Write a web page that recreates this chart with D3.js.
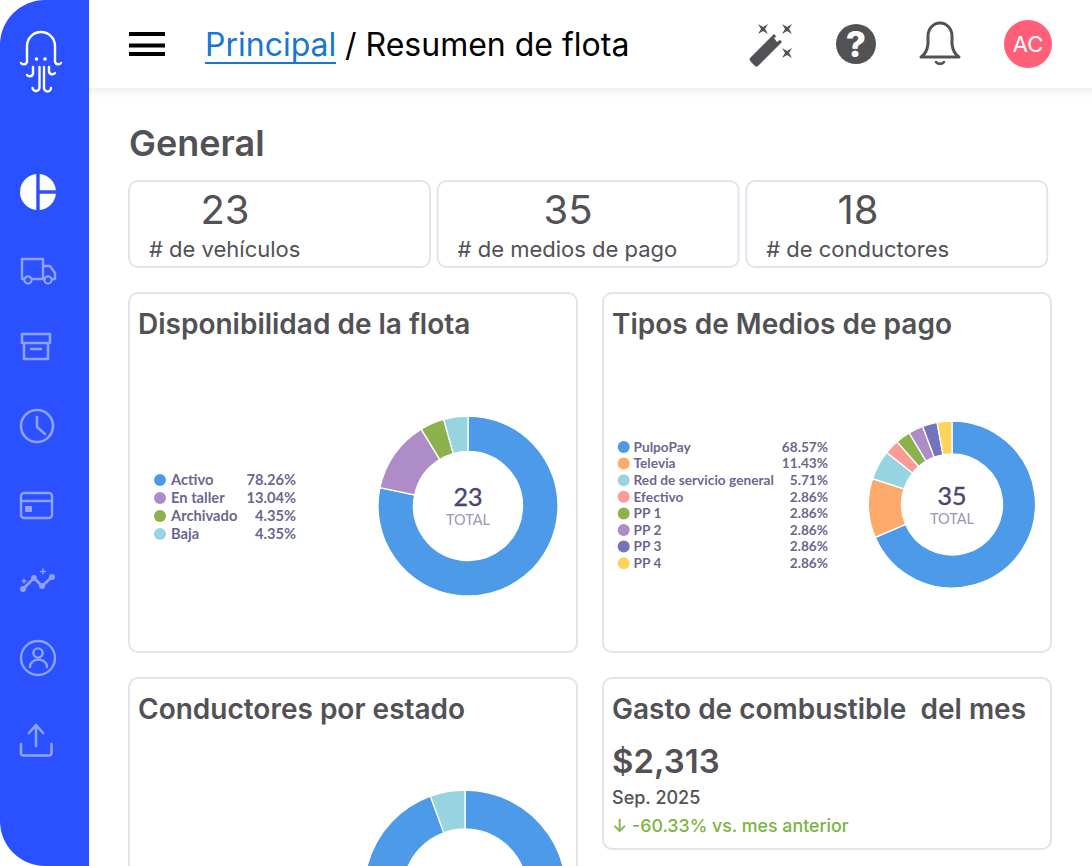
<!DOCTYPE html>
<html>
<head>
<meta charset="utf-8">
<script src="https://cdn.jsdelivr.net/npm/d3@7/dist/d3.min.js"></script>
<style>
  html, body { margin: 0; padding: 0; background: #fff; overflow: hidden; }
  svg { display: block; }
  text { font-family: Inter, "Noto Sans", sans-serif; white-space: pre; }
  .lato { font-family: Lato, sans-serif; }
</style>
</head>
<body>
<svg id="page" width="1092" height="866"></svg>
<script>
// Data
const kpiValues = [23, 35, 18];
const kpiLabels = ['# de vehículos', '# de medios de pago', '# de conductores'];

const flotaCategories = ['Activo', 'En taller', 'Archivado', 'Baja'];
const flotaValues = [78.26, 13.04, 4.35, 4.35];
const flotaColors = ['#4c9ae8', '#ae8cc8', '#8bb24c', '#97d4df'];

const pagoCategories = ['PulpoPay', 'Televia', 'Red de servicio general', 'Efectivo', 'PP 1', 'PP 2', 'PP 3', 'PP 4'];
const pagoValues = [68.57, 11.43, 5.71, 2.86, 2.86, 2.86, 2.86, 2.86];
const pagoColors = ['#4c9ae8', '#fcaa6c', '#97d4df', '#fc9a96', '#8bb24c', '#ae8cc8', '#7474bc', '#fdd35a'];

const conductorCategories = ['Activo', 'Baja'];
const conductorValues = [94.44, 5.56];
const conductorColors = ['#4c9ae8', '#97d4df'];

const INK = '#525155';
const LEGEND_INK = '#5a5683';
const ICON = '#8ea3ff';

const svg = d3.select('#page');
const defs = svg.append('defs');
const blur = defs.append('filter').attr('id', 'shadow').attr('y', '-20%').attr('height', '150%');
blur.append('feDropShadow').attr('dx', 0).attr('dy', 2).attr('stdDeviation', 5)
  .attr('flood-color', '#c9c9d6').attr('flood-opacity', 0.4);

// header band
svg.append('rect').attr('x', 60).attr('y', -20).attr('width', 1060).attr('height', 108)
  .attr('fill', '#fff').attr('filter', 'url(#shadow)');

// sidebar
svg.append('path').attr('fill', '#2b50ff')
  .attr('d', 'M89 0 V866 H45 A45 45 0 0 1 0 821 V45 A45 45 0 0 1 45 0 Z');

function addText(x, y, str, size, weight, color, anchor, cls) {
  return svg.append('text').attr('x', x).attr('y', y).text(str)
    .attr('font-size', size).attr('font-weight', weight).attr('fill', color)
    .attr('text-anchor', anchor || 'start').attr('class', cls || null);
}

function addCard(x, y, w, h) {
  svg.append('rect').attr('x', x).attr('y', y).attr('width', w).attr('height', h).attr('rx', 9)
    .attr('fill', '#fff').attr('stroke', '#e2e3ed').attr('stroke-width', 2);
}

// sidebar icons
function icon(d, color, width, fill) {
  svg.append('path').attr('d', d).attr('fill', fill || 'none').attr('stroke', color)
    .attr('stroke-width', width).attr('stroke-linecap', 'round').attr('stroke-linejoin', 'round');
}
icon('M27 62 V46 a14 14 0 0 1 28 0 V62 M27 62 a3.5 3.5 0 0 1 -6 1 M55 62 a3.5 3.5 0 0 0 6 1 M33 67 v7 a3.5 3.5 0 0 1 -6 1 M39.5 67 V87 a3.5 3.5 0 0 1 -7 1 M44 67 V88 a3.5 3.5 0 0 0 7 0 M49 67 v5 a3.5 3.5 0 0 0 6 1', '#fff', 2.4);
svg.append('circle').attr('cx', 36.5).attr('cy', 59).attr('r', 1.8).attr('fill', '#fff');
svg.append('circle').attr('cx', 45).attr('cy', 59).attr('r', 1.8).attr('fill', '#fff');

svg.append('circle').attr('cx', 38).attr('cy', 192).attr('r', 18).attr('fill', '#fff');
svg.append('path').attr('d', 'M38 172 V212 M38 192 H58').attr('stroke', '#2b50ff').attr('stroke-width', 3.4);

icon('M22 259 H43 V279 H22 Z M43 266 H50 L55 273 V279 H43', ICON, 2.4);
svg.append('circle').attr('cx', 28).attr('cy', 280).attr('r', 3.6).attr('fill', '#2b50ff').attr('stroke', ICON).attr('stroke-width', 2.2);
svg.append('circle').attr('cx', 48).attr('cy', 280).attr('r', 3.6).attr('fill', '#2b50ff').attr('stroke', ICON).attr('stroke-width', 2.2);

icon('M22 334 H50 V343 H22 Z M24 343 V359 H48 V343 M31 349 H41', ICON, 2.6);

svg.append('circle').attr('cx', 37).attr('cy', 426).attr('r', 16).attr('fill', 'none').attr('stroke', ICON).attr('stroke-width', 2.6);
icon('M37 417 V427 L45 434', ICON, 2.6);

svg.append('rect').attr('x', 21).attr('y', 493).attr('width', 31).attr('height', 25).attr('rx', 3).attr('fill', 'none').attr('stroke', ICON).attr('stroke-width', 2.4);
svg.append('path').attr('d', 'M21 501 H52').attr('stroke', ICON).attr('stroke-width', 2.4);
svg.append('rect').attr('x', 25).attr('y', 506).attr('width', 7).attr('height', 6).attr('fill', ICON);

icon('M23 589 L34 578 L42 586 L52 577', ICON, 2.8);
[[23, 589], [34, 578], [42, 586], [52, 577]].forEach(p =>
  svg.append('circle').attr('cx', p[0]).attr('cy', p[1]).attr('r', 3).attr('fill', ICON));
icon('M24 579 v4 M22 581 h4 M43 569 v5 M40.5 571.5 h5', ICON, 1.4);

svg.append('circle').attr('cx', 38).attr('cy', 658).attr('r', 17).attr('fill', 'none').attr('stroke', ICON).attr('stroke-width', 2.4);
svg.append('circle').attr('cx', 38).attr('cy', 653).attr('r', 4.6).attr('fill', 'none').attr('stroke', ICON).attr('stroke-width', 2.4);
icon('M30 667 a8.5 7.5 0 0 1 17 0', ICON, 2.4);

icon('M36 746 V726 M29 733 L36 725 L43 733 M21 744 V753 a2.5 2.5 0 0 0 2.5 2.5 H49 a2.5 2.5 0 0 0 2.5 -2.5 V744', ICON, 2.6);

// header
[32, 43.5, 52].forEach(y =>
  svg.append('rect').attr('x', 129).attr('y', y).attr('width', 36).attr('height', 4).attr('fill', '#000'));
addText(205, 56, 'Principal', 32, 400, '#1976d2');
svg.append('rect').attr('x', 205).attr('y', 62).attr('width', 131).attr('height', 2).attr('fill', '#1976d2');
addText(345, 56, '/ Resumen de flota', 32, 400, '#000');

// header icons
svg.append('path').attr('fill', INK)
  .attr('d', 'M750 58 L774 34 L782 42 L758 66 Q756 67 755 66 L751 62 Q749 60 750 58 Z');
svg.append('path').attr('fill', '#fff').attr('d', 'M774 38 L778 35 L781 39 L777 42 Z');
[[763, 29], [787, 29], [787, 53]].forEach(p =>
  svg.append('path').attr('fill', INK)
    .attr('d', `M${p[0] - 5} ${p[1] - 5} L${p[0]} ${p[1] - 2} L${p[0] + 5} ${p[1] - 5} L${p[0] + 2} ${p[1]} L${p[0] + 5} ${p[1] + 5} L${p[0]} ${p[1] + 2} L${p[0] - 5} ${p[1] + 5} L${p[0] - 2} ${p[1]} Z`));

svg.append('circle').attr('cx', 856).attr('cy', 44).attr('r', 20).attr('fill', INK);
addText(856, 57, '?', 35, 800, '#fff', 'middle');

icon('M921 57 Q927 53 928 44 V36 a12 13 0 0 1 24 0 V44 Q953 53 959 57 Z', INK, 3);
icon('M936 62 a4.5 3.5 0 0 0 8 0', INK, 2.6);

svg.append('circle').attr('cx', 1028).attr('cy', 44).attr('r', 24).attr('fill', '#ff5f78');
addText(1028, 52, 'AC', 22, 400, '#fff', 'middle');

addText(129, 155.5, 'General', 36, 600, INK);

// kpi cards
const kpiCenter = [225, 568, 858];
kpiValues.forEach((v, i) => {
  const x = 129 + i * 308.6;
  addCard(x, 181, 301, 86);
  addText(kpiCenter[i], 224, v, 40, 400, INK, 'middle');
  addText(x + 20, 257, kpiLabels[i], 22, 400, INK);
});

// chart cards
addCard(129, 293, 448, 359);
addCard(603, 293, 448, 359);
addCard(129, 678, 448, 230);
addCard(603, 678, 448, 171);
addText(138, 333.5, 'Disponibilidad de la flota', 28, 600, INK);
addText(612, 333.5, 'Tipos de Medios de pago', 28, 600, INK);
addText(138, 718.5, 'Conductores por estado', 28, 600, INK);
addText(612, 718.5, 'Gasto de combustible  del mes', 28, 600, INK);

addText(612, 773, '$2,313', 33, 600, INK);
addText(612, 804, 'Sep. 2025', 18, 500, INK);
addText(612, 832, '↓ -60.33% vs. mes anterior', 17.8, 500, '#7cb342');

// donut with optional centre text and legend
function drawDonut(opts) {
  const color = d3.scaleOrdinal().domain(opts.categories).range(opts.colors);
  const pie = d3.pie().sort(null).value(d => d.value);
  const arc = d3.arc().innerRadius(opts.inner).outerRadius(opts.outer);
  const rows = opts.categories.map((c, i) => ({ category: c, value: opts.values[i] }));

  const g = svg.append('g').attr('transform', `translate(${opts.cx},${opts.cy})`);
  g.selectAll('path').data(pie(rows)).enter().append('path')
    .attr('d', arc)
    .attr('fill', d => color(d.data.category))
    .attr('stroke', '#fff')
    .attr('stroke-width', 1.3);

  if (!opts.legend) return;

  g.append('text').attr('y', 0).attr('text-anchor', 'middle').attr('class', 'lato')
    .attr('font-size', 25).attr('font-weight', 400).attr('fill', '#4a4672')
    .attr('stroke', '#4a4672').attr('stroke-width', 0.4).text(opts.total);
  g.append('text').attr('y', 19).attr('text-anchor', 'middle').attr('class', 'lato')
    .attr('font-size', 14.5).attr('fill', '#9a97b5').text('TOTAL');

  const l = opts.legend;
  const y = d3.scalePoint().domain(opts.categories).range([l.top, l.top + l.step * (opts.categories.length - 1)]);
  const fmt = d3.format('.2f');
  const row = svg.append('g').selectAll('g').data(rows).enter().append('g')
    .attr('transform', d => `translate(0,${y(d.category)})`);
  row.append('circle').attr('cx', l.dot).attr('r', 6).attr('fill', d => color(d.category));
  row.append('text').attr('class', 'lato').attr('x', l.text).attr('dy', '0.35em')
    .attr('font-size', l.size).attr('font-weight', 700).attr('fill', LEGEND_INK).attr('fill-opacity', 0.92)
    .text(d => d.category);
  row.append('text').attr('class', 'lato').attr('x', l.right).attr('dy', '0.35em')
    .attr('text-anchor', 'end').attr('font-size', l.size).attr('font-weight', 700)
    .attr('fill', LEGEND_INK).attr('fill-opacity', 0.92)
    .text(d => fmt(d.value) + '%');
}

drawDonut({
  categories: flotaCategories, values: flotaValues, colors: flotaColors,
  cx: 468, cy: 506, outer: 90, inner: 54.5, total: 23,
  legend: { top: 480, step: 18, dot: 160, text: 171, right: 296, size: 14.7 }
});

drawDonut({
  categories: pagoCategories, values: pagoValues, colors: pagoColors,
  cx: 952, cy: 504.5, outer: 83.5, inner: 50.5, total: 35,
  legend: { top: 447, step: 16.6, dot: 623.7, text: 633.5, right: 828, size: 13.7 }
});

drawDonut({
  categories: conductorCategories, values: conductorValues, colors: conductorColors,
  cx: 465, cy: 891, outer: 101, inner: 62
});
</script>
</body>
</html>
